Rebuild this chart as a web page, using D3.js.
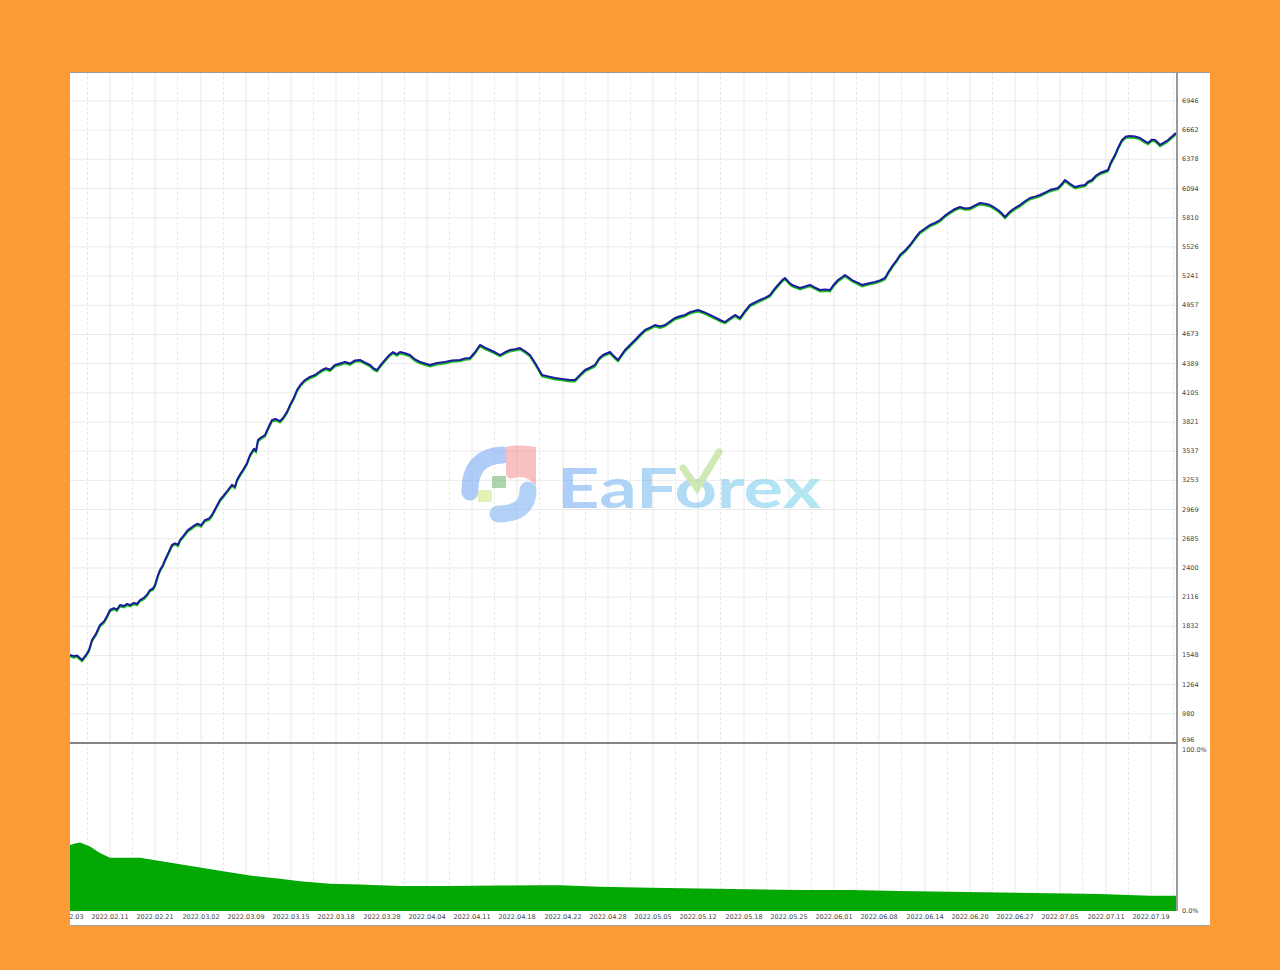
<!DOCTYPE html>
<html>
<head>
<meta charset="utf-8">
<script src="https://cdn.jsdelivr.net/npm/d3@7"></script>
<style>
  html, body { margin: 0; padding: 0; background: #fd9b37; }
  svg { display: block; }
  .axis-label { font-family: "DejaVu Sans", sans-serif; font-size: 6.5px; fill: #444; }
</style>
</head>
<body>
<svg id="chart" width="1280" height="970"></svg>
<script>
// Right axis labels of the balance panel
const balanceTicks = [696, 980, 1264, 1548, 1832, 2116, 2400, 2685, 2969, 3253, 3537,
  3821, 4105, 4389, 4673, 4957, 5241, 5526, 5810, 6094, 6378, 6662, 6946];

// Date labels along the bottom and the bar each sits on
const dateLabels = ["2022.02.03", "2022.02.11", "2022.02.21", "2022.03.02", "2022.03.09",
  "2022.03.15", "2022.03.18", "2022.03.28", "2022.04.04", "2022.04.11", "2022.04.18",
  "2022.04.22", "2022.04.28", "2022.05.05", "2022.05.12", "2022.05.18", "2022.05.25",
  "2022.06.01", "2022.06.08", "2022.06.14", "2022.06.20", "2022.06.27", "2022.07.05",
  "2022.07.11", "2022.07.19"];
const dateBars = [-5, 40, 85, 131, 176, 221, 266, 312, 357, 402, 447, 493, 538, 583,
  628, 674, 719, 764, 809, 855, 900, 945, 990, 1036, 1081];

// Balance curve (bar index, balance)
const balanceBars = [0, 4, 7, 12, 16, 19, 22, 26, 30, 34, 37, 40, 44, 47, 50, 54, 57, 60,
  64, 67, 70, 74, 77, 80, 83, 85, 88, 90, 93, 95, 98, 102, 105, 108, 110, 114, 118, 121,
  125, 128, 131, 135, 139, 142, 146, 150, 154, 158, 162, 165, 167, 170, 173, 177, 180,
  184, 186, 188, 191, 195, 198, 202, 206, 210, 213, 217, 220, 224, 227, 231, 235, 240,
  245, 248, 252, 256, 260, 265, 270, 275, 280, 285, 290, 295, 300, 304, 307, 311, 315,
  319, 323, 327, 330, 335, 340, 345, 350, 355, 360, 367, 375, 382, 390, 395, 400, 405,
  410, 415, 420, 425, 430, 435, 440, 445, 450, 455, 460, 466, 472, 478, 485, 492, 500,
  505, 510, 515, 520, 525, 529, 533, 537, 540, 544, 548, 552, 555, 560, 565, 570, 575,
  580, 585, 590, 595, 600, 605, 610, 615, 620, 628, 634, 640, 645, 650, 655, 660, 665,
  670, 675, 680, 685, 690, 695, 700, 704, 708, 712, 715, 719, 722, 726, 730, 735, 740,
  745, 750, 755, 760, 764, 768, 772, 775, 779, 782, 787, 792, 798, 805, 810, 815, 819,
  823, 827, 830, 835, 840, 845, 850, 855, 860, 865, 870, 875, 880, 885, 890, 895, 900,
  905, 910, 915, 920, 924, 928, 932, 935, 939, 942, 946, 950, 955, 960, 965, 970, 975,
  980, 984, 988, 992, 995, 1000, 1005, 1010, 1015, 1018, 1022, 1026, 1030, 1034, 1038,
  1041, 1045, 1048, 1052, 1056, 1060, 1065, 1070, 1074, 1078, 1082, 1085, 1088, 1090,
  1094, 1098, 1102, 1106];
const balanceValues = [1553, 1540, 1548, 1504, 1553, 1600, 1699, 1760, 1845, 1880, 1930,
  1991, 2010, 1995, 2039, 2030, 2050, 2039, 2060, 2050, 2088, 2110, 2140, 2185, 2200,
  2234, 2330, 2380, 2430, 2478, 2540, 2624, 2640, 2625, 2672, 2720, 2770, 2790, 2818,
  2830, 2815, 2867, 2880, 2916, 2990, 3062, 3110, 3159, 3210, 3190, 3256, 3310, 3354,
  3420, 3500, 3560, 3540, 3646, 3670, 3694, 3760, 3840, 3850, 3830, 3860, 3920, 3986,
  4060, 4132, 4190, 4230, 4260, 4278, 4300, 4327, 4345, 4330, 4376, 4390, 4405, 4390,
  4420, 4425, 4400, 4376, 4340, 4327, 4380, 4425, 4470, 4502, 4480, 4502, 4490, 4473,
  4430, 4405, 4390, 4376, 4395, 4405, 4420, 4425, 4440, 4444, 4500, 4571, 4545, 4522,
  4500, 4473, 4500, 4522, 4530, 4541, 4510, 4473, 4380, 4278, 4265, 4249, 4240, 4230,
  4230, 4280, 4327, 4350, 4376, 4440, 4473, 4490, 4502, 4460, 4425, 4480, 4522, 4570,
  4619, 4670, 4717, 4740, 4765, 4750, 4765, 4800, 4833, 4850, 4863, 4890, 4911, 4890,
  4863, 4840, 4814, 4794, 4830, 4863, 4833, 4900, 4960, 4985, 5009, 5030, 5057, 5110,
  5155, 5200, 5223, 5180, 5155, 5140, 5125, 5140, 5155, 5130, 5106, 5110, 5106, 5160,
  5203, 5230, 5252, 5225, 5203, 5180, 5155, 5170, 5184, 5200, 5223, 5290, 5349, 5400,
  5447, 5490, 5544, 5610, 5671, 5705, 5739, 5760, 5787, 5830, 5865, 5895, 5914, 5900,
  5904, 5930, 5953, 5945, 5933, 5910, 5885, 5850, 5817, 5860, 5885, 5910, 5933, 5970,
  6002, 6015, 6031, 6055, 6079, 6090, 6099, 6140, 6177, 6140, 6109, 6120, 6128, 6160,
  6177, 6220, 6245, 6260, 6274, 6350, 6420, 6490, 6566, 6600, 6605, 6600, 6586, 6560,
  6537, 6570, 6566, 6540, 6518, 6540, 6566, 6600, 6634];

// Deposit load in the lower panel (bar index, percent)
const loadBars = [0, 5, 10, 20, 30, 40, 50, 70, 90, 110, 130, 150, 180, 210, 230, 260,
  290, 330, 380, 430, 470, 490, 530, 580, 630, 680, 730, 780, 830, 880, 930, 980, 1030,
  1080, 1106];
const loadValues = [41, 42, 42.5, 40, 36, 33, 33, 33, 31, 29, 27, 25, 22, 20, 18.5, 17,
  16.5, 15.5, 15.5, 15.8, 16, 16, 15, 14.5, 14, 13.5, 13, 13, 12.5, 12, 11.5, 11, 10.5,
  9.5, 9.5];

const svg = d3.select("#chart");

// Panel geometry
const panel = { left: 70, right: 1210, top: 72, bottom: 926 };
const plotRight = 1177;
const topPanel = { top: 101, bottom: 743 };
const lowPanel = { top: 750, bottom: 911 };

svg.append("rect")
  .attr("x", panel.left).attr("y", panel.top)
  .attr("width", panel.right - panel.left).attr("height", panel.bottom - panel.top)
  .attr("fill", "#ffffff");

const defs = svg.append("defs");
defs.append("clipPath").attr("id", "plot-clip")
  .append("rect")
  .attr("x", panel.left).attr("y", panel.top)
  .attr("width", plotRight - panel.left).attr("height", panel.bottom - panel.top);

const x = d3.scaleLinear().domain([0, 1107]).range([panel.left, plotRight]);
const y = d3.scaleLinear().domain([696, 6946]).range([topPanel.bottom, topPanel.top]);
const yLoad = d3.scaleLinear().domain([0, 100]).range([lowPanel.bottom, lowPanel.top]);

// Grid
const grid = svg.append("g").attr("clip-path", "url(#plot-clip)");
const halfStep = (dateBars[1] - dateBars[0]) / 2;
const gridBars = dateBars.flatMap((b) => [b, b + halfStep]);
grid.selectAll("line.vgrid")
  .data(gridBars)
  .enter()
  .append("line")
  .attr("x1", (d) => x(d)).attr("x2", (d) => x(d))
  .attr("y1", panel.top).attr("y2", lowPanel.bottom)
  .attr("stroke", "#e8e8e8")
  .attr("stroke-dasharray", (d, i) => (i % 2 ? "3,2" : null));
grid.selectAll("line.hgrid")
  .data(balanceTicks.slice(1))
  .enter()
  .append("line")
  .attr("x1", panel.left).attr("x2", plotRight)
  .attr("y1", (d) => y(d)).attr("y2", (d) => y(d))
  .attr("stroke", "#eaeaea");

// Watermark
const wm = svg.append("g").attr("opacity", 0.62);
const wmGrad = defs.append("linearGradient")
  .attr("id", "wm-grad").attr("x1", "0%").attr("x2", "100%");
wmGrad.append("stop").attr("offset", "0%").attr("stop-color", "#7fb0f4");
wmGrad.append("stop").attr("offset", "100%").attr("stop-color", "#86dcec");
wm.append("path").attr("d", "M470 492 Q469 457 502 455")
  .attr("fill", "none").attr("stroke", "#7eaef3").attr("stroke-width", 17).attr("stroke-linecap", "round");
wm.append("path").attr("d", "M506 447 Q520 444 536 447 L536 486 Q527 474 514 478 Q506 480 506 472 Z")
  .attr("fill", "#f59a9a");
wm.append("path").attr("d", "M528 490 Q528 514 498 514")
  .attr("fill", "none").attr("stroke", "#86b8f5").attr("stroke-width", 17).attr("stroke-linecap", "round");
wm.append("rect").attr("x", 492).attr("y", 476).attr("width", 14).attr("height", 12).attr("fill", "#7cbc7c");
wm.append("rect").attr("x", 478).attr("y", 490).attr("width", 14).attr("height", 12).attr("fill", "#cfe98e");
wm.append("text")
  .attr("x", 557).attr("y", 508)
  .attr("textLength", 264).attr("lengthAdjust", "spacingAndGlyphs")
  .style("font-family", "Lato, sans-serif").style("font-weight", "bold").style("font-size", "56px")
  .attr("fill", "url(#wm-grad)")
  .text("EaForex");
wm.append("path").attr("d", "M683 468 L697 488 L719 452")
  .attr("fill", "none").attr("stroke", "#b3dc88").attr("stroke-width", 7).attr("stroke-linecap", "round");

// Balance / equity lines
const line = d3.line()
  .x((d) => x(d[0]))
  .y((d) => y(d[1]));
const balanceData = d3.zip(balanceBars, balanceValues);
const plot = svg.append("g").attr("clip-path", "url(#plot-clip)");
plot.append("path").datum(balanceData)
  .attr("d", line)
  .attr("transform", "translate(0,1.5)")
  .attr("fill", "none").attr("stroke", "#18c018").attr("stroke-width", 1.8);
plot.append("path").datum(balanceData)
  .attr("d", line)
  .attr("fill", "none").attr("stroke", "#1a1a9c").attr("stroke-width", 2)
  .attr("stroke-linejoin", "round");

// Deposit load area
const area = d3.area()
  .x((d) => x(d[0]))
  .y0(yLoad(0))
  .y1((d) => yLoad(d[1]));
plot.append("path").datum(d3.zip(loadBars, loadValues))
  .attr("d", area)
  .attr("fill", "#03a803");

// Frame lines
svg.append("line")
  .attr("x1", panel.left).attr("x2", plotRight)
  .attr("y1", topPanel.bottom).attr("y2", topPanel.bottom)
  .attr("stroke", "#858585").attr("stroke-width", 2);
svg.append("line")
  .attr("x1", plotRight).attr("x2", plotRight)
  .attr("y1", panel.top).attr("y2", lowPanel.bottom)
  .attr("stroke", "#777").attr("stroke-width", 1.5);
svg.append("line")
  .attr("x1", panel.left).attr("x2", panel.right)
  .attr("y1", panel.top + 0.5).attr("y2", panel.top + 0.5)
  .attr("stroke", "#9a9a9a");
svg.append("line")
  .attr("x1", panel.left).attr("x2", panel.right)
  .attr("y1", panel.bottom - 0.5).attr("y2", panel.bottom - 0.5)
  .attr("stroke", "#a0a0a0");

// Right axis labels
svg.append("g").selectAll("text")
  .data(balanceTicks)
  .enter()
  .append("text")
  .attr("class", "axis-label")
  .attr("x", plotRight + 5)
  .attr("y", (d) => y(d) + (d === 696 ? -1 : 2))
  .text((d) => d);
svg.append("g").selectAll("text")
  .data([0, 100])
  .enter()
  .append("text")
  .attr("class", "axis-label")
  .attr("x", plotRight + 5)
  .attr("y", (d) => yLoad(d) + 2)
  .text((d) => d.toFixed(1) + "%");

// Date labels
svg.append("g").attr("clip-path", "url(#plot-clip)")
  .selectAll("text")
  .data(dateLabels)
  .enter()
  .append("text")
  .attr("class", "axis-label")
  .attr("text-anchor", "middle")
  .attr("x", (d, i) => x(dateBars[i]))
  .attr("y", lowPanel.bottom + 8)
  .text((d) => d);
</script>
</body>
</html>
